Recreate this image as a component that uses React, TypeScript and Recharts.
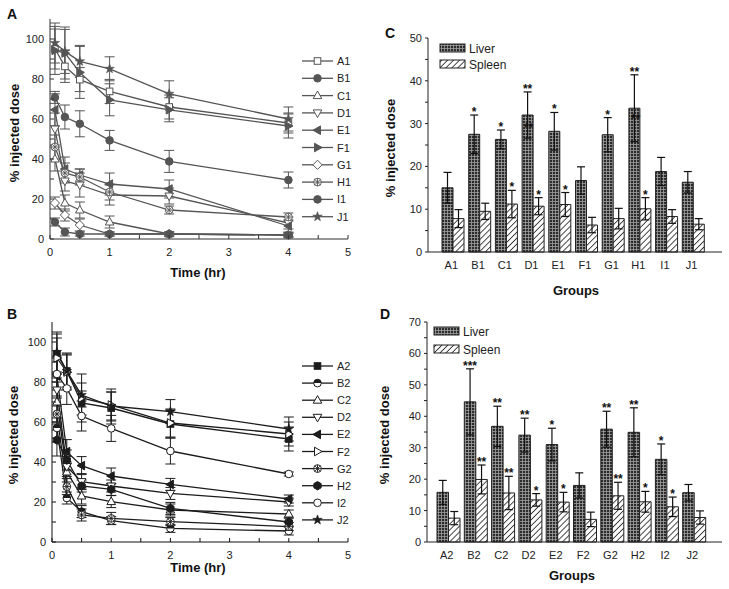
import React from 'react';
import { LineChart, Line, XAxis, YAxis, ErrorBar, BarChart, Bar, LabelList } from 'recharts';

const FONT = '"Liberation Sans", Arial, Helvetica, sans-serif';

// ---------- shared ticks ----------
const timesHr = [0.083, 0.25, 0.5, 1, 2, 4];
const xTicksTime = [0, 0.5, 1, 1.5, 2, 2.5, 3, 3.5, 4, 4.5, 5];
const yTicksLine = [0, 10, 20, 30, 40, 50, 60, 70, 80, 90, 100];
const yTicksC = [0, 5, 10, 15, 20, 25, 30, 35, 40, 45, 50];
const yTicksD = [0, 5, 10, 15, 20, 25, 30, 35, 40, 45, 50, 55, 60, 65, 70];

// ---------- Panel A (time course, group 1) ----------
const namesA = ['A1', 'B1', 'C1', 'D1', 'E1', 'F1', 'G1', 'H1', 'I1', 'J1'];
const a1 = [95, 86.3, 79.7, 73.8, 66, 58];
const b1 = [70.8, 61, 57.6, 49.3, 38.8, 29.5];
const c1 = [40, 18, 14.5, 8.5, 2.5, 2];
const d1 = [55, 29, 27, 22, 21.5, 8];
const e1 = [64.6, 35, 32, 27.5, 25, 6.5];
const f1 = [94.3, 93, 83.3, 69.6, 64.6, 56.5];
const g1 = [18, 12, 7, 2.5, 2.5, 2];
const h1 = [46, 33, 31, 23.5, 14.5, 11];
const i1 = [8.5, 3.5, 2.5, 2.5, 2.5, 2];
const j1 = [98, 93.8, 88.8, 85.1, 72.6, 60];
const a1e = [10, 8, 6, 6, 6, 5];
const b1e = [3, 6, 6.5, 5, 5.5, 4];
const c1e = [6, 4, 4, 3, 1, 1];
const d1e = [8, 5, 6, 5, 4, 3];
const e1e = [8, 6, 3, 5.5, 4.5, 3];
const f1e = [12, 13, 13, 8, 6, 6];
const g1e = [3, 3, 3, 1, 1, 1];
const h1e = [6, 5, 4, 4, 2, 2];
const i1e = [2, 2, 1, 1, 1, 1];
const j1e = [10, 11, 8, 6, 6.5, 6];
const valuesA = [a1, b1, c1, d1, e1, f1, g1, h1, i1, j1];
const errsA = [a1e, b1e, c1e, d1e, e1e, f1e, g1e, h1e, i1e, j1e];

// ---------- Panel B (time course, group 2) ----------
const namesB = ['A2', 'B2', 'C2', 'D2', 'E2', 'F2', 'G2', 'H2', 'I2', 'J2'];
const a2 = [94, 85.5, 69.5, 67, 59, 51.5];
const b2 = [57, 22, 15.2, 10.7, 6.8, 5.5];
const c2 = [70, 35, 23, 20.2, 16, 14];
const d2 = [76, 37.7, 30.2, 28, 24.3, 20];
const e2 = [83, 45.2, 38.2, 33, 28.8, 21.5];
const f2 = [92, 85, 72, 68.5, 59.5, 54];
const g2 = [64, 27.7, 13.5, 11.8, 10.2, 7.7];
const h2 = [51, 41, 28, 26.3, 16.8, 10];
const i2 = [84, 76.8, 63, 56.8, 45.5, 34];
const j2 = [95, 85.5, 73.5, 68, 65.2, 56.5];
const a2e = [10, 8, 6, 8, 7, 6];
const b2e = [5, 3, 3, 2, 2, 2];
const c2e = [10, 5, 4, 3, 3, 2];
const d2e = [8, 5, 4, 3, 3, 2];
const e2e = [10, 6, 4.5, 4, 3, 2];
const f2e = [10, 9, 12, 8, 7, 6];
const g2e = [8, 4, 3, 3, 2, 2];
const h2e = [8, 5, 3, 3, 3, 2];
const i2e = [8, 8, 7.5, 6.5, 6.5, 1];
const j2e = [10, 9, 6, 7, 6, 6];
const valuesB = [a2, b2, c2, d2, e2, f2, g2, h2, i2, j2];
const errsB = [a2e, b2e, c2e, d2e, e2e, f2e, g2e, h2e, i2e, j2e];

// ---------- Panel C (biodistribution, group 1) ----------
const groupsC = ['A1', 'B1', 'C1', 'D1', 'E1', 'F1', 'G1', 'H1', 'I1', 'J1'];
const liverC = [15, 27.5, 26.3, 32, 28.2, 16.7, 27.4, 33.6, 18.8, 16.3];
const liverErrC = [3.6, 4.5, 2.2, 5.4, 4.4, 3.2, 4, 7.8, 3.3, 2.5];
const spleenC = [7.8, 9.5, 11.2, 10.7, 11.1, 6.3, 7.8, 10.1, 8.3, 6.5];
const spleenErrC = [2.1, 1.9, 3.2, 2, 2.8, 1.8, 2.4, 2.6, 1.6, 1.3];
const liverSigC = ['', '*', '*', '**', '*', '', '*', '**', '', ''];
const spleenSigC = ['', '', '*', '*', '*', '', '', '*', '', ''];
const liverInnerSigC = ['', '', '', '**', '', '', '', '**', '', ''];
const liverInnerValC = [0, 0, 0, 29.4, 0, 0, 0, 31.6, 0, 0];

// ---------- Panel D (biodistribution, group 2) ----------
const groupsD = ['A2', 'B2', 'C2', 'D2', 'E2', 'F2', 'G2', 'H2', 'I2', 'J2'];
const liverD = [15.8, 44.6, 36.8, 34, 31, 18, 35.9, 34.9, 26.3, 15.7];
const liverErrD = [3.8, 10.5, 6.4, 5.4, 5.2, 4, 5.7, 7.8, 4.9, 2.6];
const spleenD = [7.6, 19.9, 15.6, 13.4, 12.7, 7.2, 14.7, 12.8, 11.2, 7.8];
const spleenErrD = [2.1, 4.6, 5.3, 2, 3.1, 2.3, 4.3, 3.3, 3.1, 2.1];
const liverSigD = ['', '***', '**', '**', '*', '', '**', '**', '*', ''];
const spleenSigD = ['', '**', '**', '*', '*', '', '**', '*', '*', ''];

// ---------- styles ----------
const kindsA = ['square', 'circle', 'triUp', 'triDown', 'triLeft', 'triRight', 'diamond', 'asterisk', 'circle', 'star'];
const filledA = [false, true, false, false, true, true, false, false, true, true];
const kindsB = ['square', 'half', 'triUp', 'triDown', 'triLeft', 'triRight', 'asterisk', 'hexagon', 'circle', 'star'];
const filledB = [true, true, false, false, true, false, false, true, false, true];
const colorA = '#555';
const colorB = '#1c1c1c';

function buildRows(names: string[], values: number[][], errs: number[][]) {
  return timesHr.map((t, i) => {
    const row: any = { t };
    names.forEach((n, k) => {
      row[n] = values[k][i];
      row[n + 'e'] = errs[k][i];
    });
    return row;
  });
}
const rowsA = buildRows(namesA, valuesA, errsA);
const rowsB = buildRows(namesB, valuesB, errsB);

const rowsC = groupsC.map((g, i) => ({ g, liver: liverC[i], liverErr: liverErrC[i], spleen: spleenC[i], spleenErr: spleenErrC[i] }));
const rowsD = groupsD.map((g, i) => ({ g, liver: liverD[i], liverErr: liverErrD[i], spleen: spleenD[i], spleenErr: spleenErrD[i] }));

function Marker({ cx, cy, kind, filled, color }: any) {
  if (cx == null || cy == null) return null;
  const fill = filled ? color : '#fff';
  const sw = 1;
  const pts = (arr: number[][]) => arr.map((p) => `${cx + p[0]},${cy + p[1]}`).join(' ');
  switch (kind) {
    case 'square':
      return <rect x={cx - 3.3} y={cy - 3.3} width={6.6} height={6.6} fill={fill} stroke={color} strokeWidth={sw} />;
    case 'circle':
      return <circle cx={cx} cy={cy} r={3.8} fill={fill} stroke={color} strokeWidth={sw} />;
    case 'triUp':
      return <polygon points={pts([[0, -4.6], [-4.3, 3], [4.3, 3]])} fill={fill} stroke={color} strokeWidth={sw} />;
    case 'triDown':
      return <polygon points={pts([[0, 4.6], [-4.3, -3], [4.3, -3]])} fill={fill} stroke={color} strokeWidth={sw} />;
    case 'triLeft':
      return <polygon points={pts([[-4.6, 0], [3, -4.3], [3, 4.3]])} fill={fill} stroke={color} strokeWidth={sw} />;
    case 'triRight':
      return <polygon points={pts([[4.6, 0], [-3, -4.3], [-3, 4.3]])} fill={fill} stroke={color} strokeWidth={sw} />;
    case 'diamond':
      return <polygon points={pts([[0, -4.6], [4.6, 0], [0, 4.6], [-4.6, 0]])} fill={fill} stroke={color} strokeWidth={sw} />;
    case 'asterisk':
      return (
        <g stroke={color} strokeWidth={0.9}>
          <circle cx={cx} cy={cy} r={3.9} fill="#fff" />
          <line x1={cx - 3.9} y1={cy} x2={cx + 3.9} y2={cy} />
          <line x1={cx} y1={cy - 3.9} x2={cx} y2={cy + 3.9} />
          <line x1={cx - 2.8} y1={cy - 2.8} x2={cx + 2.8} y2={cy + 2.8} />
          <line x1={cx - 2.8} y1={cy + 2.8} x2={cx + 2.8} y2={cy - 2.8} />
        </g>
      );
    case 'half':
      return (
        <g>
          <circle cx={cx} cy={cy} r={3.8} fill="#fff" stroke={color} strokeWidth={sw} />
          <path d={`M ${cx - 3.8} ${cy} A 3.8 3.8 0 0 1 ${cx + 3.8} ${cy} Z`} fill={color} />
        </g>
      );
    case 'hexagon': {
      const p: number[][] = [];
      for (let k = 0; k < 6; k++) {
        const a = (Math.PI / 3) * k + Math.PI / 6;
        p.push([4.2 * Math.cos(a), 4.2 * Math.sin(a)]);
      }
      return <polygon points={pts(p)} fill={fill} stroke={color} strokeWidth={sw} />;
    }
    case 'star': {
      const p: number[][] = [];
      for (let k = 0; k < 10; k++) {
        const a = -Math.PI / 2 + (Math.PI / 5) * k;
        const r = k % 2 === 0 ? 5 : 2;
        p.push([r * Math.cos(a), r * Math.sin(a)]);
      }
      return <polygon points={pts(p)} fill={fill} stroke={color} strokeWidth={0.6} />;
    }
    default:
      return null;
  }
}

// ---------- ticks ----------
const makeXTick = (color: string) => (props: any) => {
  const { x, y, payload } = props;
  const v = payload.value;
  const major = Number.isInteger(v);
  return (
    <g>
      <line x1={x} x2={x} y1={y} y2={y - 4} stroke={color} strokeWidth={1} />
      {major && (
        <text x={x} y={y + 17} textAnchor="middle" fontSize={11} fontFamily={FONT} fill="#222">
          {v}
        </text>
      )}
    </g>
  );
};
const makeYTick = (color: string, majorStep: number, inward: boolean) => (props: any) => {
  const { x, y, payload } = props;
  const v = payload.value;
  const major = v % majorStep === 0;
  return (
    <g>
      <line x1={x} x2={inward ? x + 4 : x - 3} y1={y} y2={y} stroke={color} strokeWidth={1} />
      {major && (
        <text x={x - 6} y={y + 4} textAnchor="end" fontSize={11} fontFamily={FONT} fill="#222">
          {v}
        </text>
      )}
    </g>
  );
};
const CatTick = (props: any) => {
  const { x, y, payload } = props;
  return (
    <text x={x - 2} y={y + 17} textAnchor="middle" fontSize={11} fontFamily={FONT} fill="#222">
      {payload.value}
    </text>
  );
};

// ---------- significance labels ----------
const makeSig = (vals: number[], errs: number[], sigs: string[]) => (p: any) => {
  const vb = p.viewBox || p;
  const i = p.index;
  const s = sigs[i];
  if (!s || !vb) return null;
  const perUnit = vb.height / vals[i];
  const top = vb.y - errs[i] * perUnit;
  return (
    <text key={`s${i}`} x={vb.x + vb.width / 2} y={top + 1} textAnchor="middle" fontSize={12} fontWeight="bold" fontFamily={FONT} fill="#111">
      {s}
    </text>
  );
};
const makeInner = (vals: number[], innerVals: number[], sigs: string[]) => (p: any) => {
  const vb = p.viewBox || p;
  const i = p.index;
  const s = sigs[i];
  if (!s || !vb) return null;
  const perUnit = vb.height / vals[i];
  const yy = vb.y + (vals[i] - innerVals[i]) * perUnit;
  return (
    <text key={`in${i}`} x={vb.x + vb.width / 2 + 1} y={yy + 6} textAnchor="middle" fontSize={12} fontWeight="bold" fontFamily={FONT} fill="#111">
      {s}
    </text>
  );
};

function TimeChart({ rows, names, kinds, filled, color, axisColor, margin, height }: any) {
  return (
    <LineChart width={360} height={height} data={rows} margin={margin}>
      <XAxis
        dataKey="t"
        type="number"
        domain={[0, 5]}
        ticks={xTicksTime}
        interval={0}
        height={30}
        tickSize={0}
        tickMargin={0}
        tickLine={false}
        axisLine={{ stroke: axisColor }}
        tick={makeXTick(axisColor)}
      />
      <YAxis
        type="number"
        domain={[0, 110]}
        ticks={yTicksLine}
        interval={0}
        width={40}
        tickSize={0}
        tickMargin={0}
        tickLine={false}
        axisLine={{ stroke: axisColor }}
        tick={makeYTick(axisColor, 20, true)}
      />
      {names.map((n: string, k: number) => (
        <Line
          key={n}
          dataKey={n}
          type="linear"
          stroke={color}
          strokeWidth={1.3}
          isAnimationActive={false}
          activeDot={false}
          dot={(p: any) => <Marker key={`${n}-${p.index}`} cx={p.cx} cy={p.cy} kind={kinds[k]} filled={filled[k]} color={color} />}
        >
          <ErrorBar dataKey={n + 'e'} direction="y" width={5} stroke={color} strokeWidth={1} />
        </Line>
      ))}
    </LineChart>
  );
}

function OrganChart({ rows, liver, liverErr, spleen, spleenErr, liverSig, spleenSig, inner, innerVals, yMax, yTicks, margin, height, padding, barSize }: any) {
  return (
    <BarChart width={369} height={height} data={rows} margin={margin} barGap={0} barSize={barSize}>
      <XAxis
        dataKey="g"
        type="category"
        height={30}
        padding={padding}
        tickSize={0}
        tickMargin={0}
        tickLine={false}
        axisLine={{ stroke: '#222' }}
        tick={CatTick}
        interval={0}
      />
      <YAxis
        type="number"
        domain={[0, yMax]}
        ticks={yTicks}
        interval={0}
        width={40}
        tickSize={0}
        tickMargin={0}
        tickLine={false}
        axisLine={{ stroke: '#222' }}
        tick={makeYTick('#222', 10, false)}
      />
      <Bar dataKey="liver" fill="url(#liverPat)" stroke="#222" strokeWidth={1} isAnimationActive={false}>
        <ErrorBar dataKey="liverErr" direction="y" width={4} stroke="#111" strokeWidth={1.2} />
        <LabelList dataKey="liver" content={makeSig(liver, liverErr, liverSig)} />
        {inner && <LabelList dataKey="liver" content={makeInner(liver, innerVals, inner)} />}
      </Bar>
      <Bar dataKey="spleen" fill="url(#spleenPat)" stroke="#222" strokeWidth={1} isAnimationActive={false}>
        <ErrorBar dataKey="spleenErr" direction="y" width={4} stroke="#111" strokeWidth={1.2} />
        <LabelList dataKey="spleen" content={makeSig(spleen, spleenErr, spleenSig)} />
      </Bar>
    </BarChart>
  );
}

function LineLegend({ names, kinds, filled, color, top, step }: any) {
  return (
    <g>
      {names.map((n: string, k: number) => {
        const y = top + k * step;
        return (
          <g key={n}>
            <line x1={302} x2={333} y1={y} y2={y} stroke={color} strokeWidth={1.3} />
            <Marker cx={317.5} cy={y} kind={kinds[k]} filled={filled[k]} color={color} />
            <text x={337} y={y + 4} fontSize={11} fontFamily={FONT} fill="#222">
              {n}
            </text>
          </g>
        );
      })}
    </g>
  );
}

function BarLegend({ x, y1, y2 }: any) {
  return (
    <g>
      <rect x={x} y={y1 - 4} width={25} height={8} fill="url(#liverPat)" stroke="#222" strokeWidth={1} />
      <text x={x + 29} y={y1 + 4.5} fontSize={12} fontFamily={FONT} fill="#222">Liver</text>
      <rect x={x} y={y2 - 4} width={25} height={8} fill="url(#spleenPat)" stroke="#222" strokeWidth={1} />
      <text x={x + 29} y={y2 + 4.5} fontSize={12} fontFamily={FONT} fill="#222">Spleen</text>
    </g>
  );
}

export default function App() {
  const titleStyle = { fontSize: 13, fontWeight: 'bold' as const, fontFamily: FONT, fill: '#111' };
  const letterStyle = { fontSize: 14, fontWeight: 'bold' as const, fontFamily: FONT, fill: '#111' };
  return (
    <div style={{ position: 'absolute', left: 0, top: 0, width: 729, height: 589, background: '#fff', overflow: 'hidden' }}>
      <svg width={0} height={0} style={{ position: 'absolute' }}>
        <defs>
          <pattern id="liverPat" width="3" height="3" patternUnits="userSpaceOnUse">
            <rect width="3" height="3" fill="#2c2c2c" />
            <rect width="3" height="0.8" fill="#a0a0a0" />
            <rect width="0.8" height="3" fill="#a0a0a0" />
          </pattern>
          <pattern id="spleenPat" width="4.2" height="4.2" patternUnits="userSpaceOnUse" patternTransform="rotate(45)">
            <rect width="4.2" height="4.2" fill="#fff" />
            <line x1="2.1" y1="0" x2="2.1" y2="4.2" stroke="#333" strokeWidth="0.9" />
          </pattern>
        </defs>
      </svg>

      <div style={{ position: 'absolute', left: 0, top: 0 }}>
        <TimeChart rows={rowsA} names={namesA} kinds={kindsA} filled={filledA} color={colorA} axisColor="#333"
          margin={{ top: 19, right: 12, left: 10, bottom: 21 }} height={290} />
      </div>
      <div style={{ position: 'absolute', left: 0, top: 290 }}>
        <TimeChart rows={rowsB} names={namesB} kinds={kindsB} filled={filledB} color={colorB} axisColor="#111"
          margin={{ top: 32, right: 12, left: 12, bottom: 17 }} height={299} />
      </div>
      <div style={{ position: 'absolute', left: 360, top: 0 }}>
        <OrganChart rows={rowsC} liver={liverC} liverErr={liverErrC} spleen={spleenC} spleenErr={spleenErrC}
          liverSig={liverSigC} spleenSig={spleenSigC} inner={liverInnerSigC} innerVals={liverInnerValC}
          yMax={50} yTicks={yTicksC} height={290} barSize={11}
          margin={{ top: 38, right: 7, left: 28, bottom: 8 }} padding={{ left: 12, right: 15 }} />
      </div>
      <div style={{ position: 'absolute', left: 360, top: 290 }}>
        <OrganChart rows={rowsD} liver={liverD} liverErr={liverErrD} spleen={spleenD} spleenErr={spleenErrD}
          liverSig={liverSigD} spleenSig={spleenSigD}
          yMax={70} yTicks={yTicksD} height={299} barSize={11.5}
          margin={{ top: 32, right: 7, left: 27, bottom: 17 }} padding={{ left: 8, right: 14 }} />
      </div>

      <svg width={729} height={589} style={{ position: 'absolute', left: 0, top: 0, pointerEvents: 'none' }}>
        <text x={7} y={19} style={letterStyle}>A</text>
        <text x={7} y={319} style={letterStyle}>B</text>
        <text x={385} y={38} style={letterStyle}>C</text>
        <text x={380} y={319} style={letterStyle}>D</text>

        <text x={198} y={277} textAnchor="middle" style={titleStyle}>Time (hr)</text>
        <text x={198} y={572} textAnchor="middle" style={titleStyle}>Time (hr)</text>
        <text x={576} y={295} textAnchor="middle" style={titleStyle}>Groups</text>
        <text x={572} y={580} textAnchor="middle" style={titleStyle}>Groups</text>

        <text transform="translate(19,133) rotate(-90)" textAnchor="middle" style={titleStyle}>% injected dose</text>
        <text transform="translate(18,435) rotate(-90)" textAnchor="middle" style={titleStyle}>% injected dose</text>
        <text transform="translate(395,148) rotate(-90)" textAnchor="middle" style={titleStyle}>% injected dose</text>
        <text transform="translate(389,435) rotate(-90)" textAnchor="middle" style={titleStyle}>% injected dose</text>

        <LineLegend names={namesA} kinds={kindsA} filled={filledA} color={colorA} top={61} step={17.3} />
        <LineLegend names={namesB} kinds={kindsB} filled={filledB} color={colorB} top={366} step={17.1} />
        <BarLegend x={440} y1={48} y2={64} />
        <BarLegend x={434} y1={331} y2={349} />
      </svg>
    </div>
  );
}
